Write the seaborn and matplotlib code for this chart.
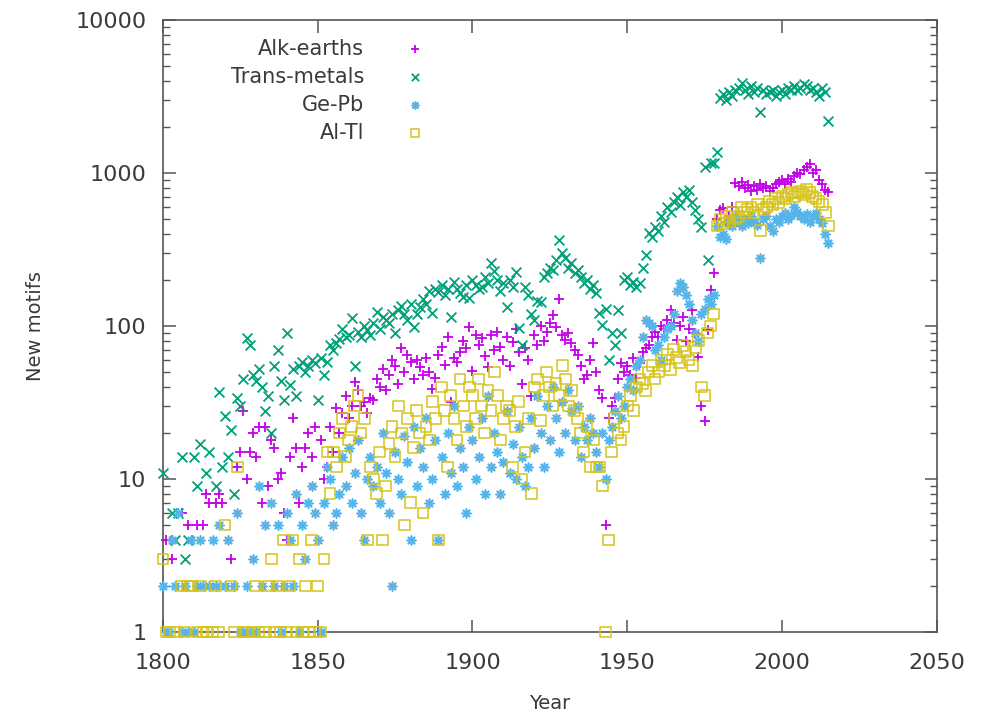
import numpy as np
import pandas as pd
import matplotlib
matplotlib.use("Agg")
import matplotlib.pyplot as plt
import seaborn as sns

N = None
years = list(range(1800, 2016))

alk_earths = [
    N, 4, N, 3, N, N, 6, N, 5, N,
    N, 5, N, 5, 8, 7, N, 7, 8, 7,
    N, N, 3, N, 12, 15, 28, 10, 15, 20,
    14, 22, 7, 22, 9, 18, 16, 10, 11, 6,
    4, 14, 25, 16, 7, 12, 16, 20, 14, 22,
    1, 18, 10, 12, 22, 15, 29, 20, 27, 35,
    25, 30, 43, 38, 30, 32, 27, 34, 33, 45,
    40, 52, 38, 48, 60, 55, 42, 72, 50, 65,
    58, 45, 60, 54, 48, 62, 50, 39, 46, 65,
    73, 56, 85, 32, 62, 58, 68, 80, 72, 98,
    51, 88, 75, 83, 64, 54, 87, 70, 92, 73,
    60, 85, 55, 79, 95, 68, 42, 72, 60, 35,
    88, 75, 100, 80, 92, 105, 118, 98, 150, 87,
    81, 90, 77, 70, 65, 55, 45, 48, 60, 77,
    50, 38, 34, 5, 25, 30, 34, 45, 57, 50,
    55, 48, 62, 46, 57, 68, 72, 75, 85, 92,
    85, 100, 95, 110, 127, 105, 81, 100, 115, 80,
    95, 127, 90, 63, 30, 24, 94, 172, 223, 500,
    570, 590, 480, 520, 600, 860, 820, 880, 800, 840,
    760, 820, 780, 850, 800, 820, 760, 800, 850, 880,
    900, 850, 920, 880, 950, 1000, 980, 1050, 1100, 1150,
    1000, 1050, 900, 850, 780, 750,
]

trans_metals = [
    11, N, N, 6, 4, 6, 14, 3, 4, N,
    14, 9, 17, N, 11, 15, N, 9, 37, 12,
    26, 14, 21, 8, 34, 30, 45, 84, 75, 48,
    44, 52, 40, 28, 35, 20, 55, 70, 44, 33,
    90, 41, 52, 35, 55, 58, 50, 55, 60, 57,
    33, 62, 48, 58, 75, 70, 78, 82, 95, 85,
    88, 113, 55, 92, 85, 100, 94, 88, 105, 123,
    95, 115, 110, 105, 120, 90, 127, 135, 120, 110,
    140, 98, 120, 133, 150, 140, 170, 121, 175, 167,
    185, 160, 175, 115, 194, 175, 165, 155, 185, 153,
    200, 185, 175, 180, 210, 190, 258, 230, 200, 170,
    190, 133, 200, 180, 226, 97, 75, 180, 160, 120,
    110, 145, 143, 210, 223, 240, 232, 270, 365, 300,
    280, 240, 258, 223, 232, 210, 190, 200, 175, 185,
    164, 121, 101, 130, 60, 90, 75, 127, 90, 200,
    208, 185, 194, 180, 190, 240, 292, 405, 380, 445,
    420, 520, 480, 600, 560, 650, 700, 620, 750, 700,
    770, 650, 570, 500, 445, 1100, 270, 1170, 1170, 1370,
    3100, 3300, 3000, 3400, 3200, 3500, 3600, 3900, 3500, 3300,
    3700, 3400, 3600, 2500, 3500, 3300, 3400, 3500, 3200, 3400,
    3500, 3300, 3600, 3500, 3700, 3500, 3600, 3800, 3700, 3500,
    3600, 3400, 3200, 3600, 3400, 2200,
]

ge_pb = [
    2, 1, 1, 4, 2, 6, 1, 2, 1, 4,
    1, 2, 4, 2, N, 2, 4, 2, 5, N,
    2, 4, N, 2, 6, 1, 1, 2, 1, 3,
    1, 9, 2, 5, N, 7, 2, 5, 1, 2,
    6, 4, 2, 8, 1, 5, 3, 7, 9, 6,
    4, 1, 7, 12, 10, 5, 6, 8, 14, 9,
    16, 7, 11, 18, 6, 4, 10, 14, 9, 12,
    7, 20, 11, 6, 2, 15, 10, 8, 19, 13,
    4, 22, 9, 16, 12, 25, 7, 10, 18, 4,
    14, 8, 20, 11, 30, 9, 16, 12, 6, 22,
    18, 10, 14, 25, 8, 35, 12, 20, 15, 8,
    13, 28, 11, 17, 10, 22, 14, 9, 12, 25,
    16, 35, 20, 12, 30, 18, 40, 25, 15, 32,
    20, 38, 28, 18, 30, 14, 22, 18, 25, 20,
    15, 12, 20, 10, 18, 22, 28, 35, 25, 30,
    40, 45, 38, 55, 60, 85, 110, 105, 100, 70,
    75, 60, 85, 95, 100, 120, 170, 190, 180, 160,
    140, 110, 90, 80, 120, 130, 150, 140, 160, 450,
    380, 400, 370, 480, 450, 520, 480, 450, 500, 470,
    520, 480, 460, 280, 500, 520, 450, 420, 500, 480,
    520, 550, 500, 530, 600, 560, 520, 500, 540, 480,
    520, 550, 500, 470, 400, 350,
]

al_tl = [
    3, 1, 1, N, 1, N, 2, 1, 2, 2,
    N, 1, 2, 1, 1, N, 1, 2, 1, N,
    5, N, 2, 1, 12, N, 1, 1, N, 1,
    2, 1, N, 1, 2, 3, 1, 2, 1, 4,
    1, 2, 4, 1, 3, 1, 2, 1, 4, 1,
    2, 1, 3, 15, 8, 15, 12, 20, 25, 14,
    18, 22, 30, 35, 20, 25, 4, 12, 10, 8,
    15, 4, 9, 17, 22, 14, 30, 20, 5, 25,
    7, 16, 28, 20, 6, 22, 18, 32, 25, 4,
    40, 28, 12, 35, 25, 18, 45, 30, 22, 40,
    35, 25, 45, 30, 20, 38, 28, 50, 35, 18,
    25, 30, 28, 12, 22, 32, 10, 15, 25, 8,
    40, 45, 24, 35, 50, 40, 30, 42, 35, 55,
    45, 30, 38, 28, 25, 20, 15, 22, 12, 18,
    12, 12, 9, 1, 4, 15, 25, 20, 18, 22,
    30, 35, 28, 40, 45, 42, 38, 50, 55, 45,
    50, 60, 55, 65, 52, 70, 62, 58, 75, 68,
    60, 55, 72, 80, 40, 35, 90, 100, 120, 450,
    500, 470, 520, 480, 550, 500, 520, 600, 550, 580,
    600, 550, 620, 420, 580, 600, 650, 620, 680, 640,
    700, 680, 720, 750, 700, 740, 760, 720, 780, 750,
    700, 680, 650, 620, 550, 450,
]

series_names = ["Alk-earths", "Trans-metals", "Ge-Pb", "Al-Tl"]
series_values = [alk_earths, trans_metals, ge_pb, al_tl]
colors = ["#c400e8", "#00a07a", "#56b4e9", "#d6c21a"]

x_ticks = [1800, 1850, 1900, 1950, 2000, 2050]
y_ticks = [1, 10, 100, 1000, 10000]

sns.set_style("ticks")
plt.rcParams["font.family"] = ["DejaVu Sans"]
text_color = "#3a3a3a"

fig = plt.figure(figsize=(9.88, 7.15), dpi=100)
ax = fig.add_axes([0.165, 0.116, 0.783, 0.856])

for name, vals, col in zip(series_names, series_values, colors):
    df = pd.DataFrame({"Year": years, "value": vals}).dropna()
    if name == "Alk-earths":
        sns.scatterplot(data=df, x="Year", y="value", ax=ax, marker="+",
                        color=col, s=60, linewidth=1.3, label=name, clip_on=False, zorder=3)
    elif name == "Trans-metals":
        sns.scatterplot(data=df, x="Year", y="value", ax=ax, marker="x",
                        color=col, s=50, linewidth=1.3, label=name, clip_on=False, zorder=3)
    elif name == "Ge-Pb":
        sns.scatterplot(data=df, x="Year", y="value", ax=ax, marker=(8, 2, 0),
                        color=col, s=40, linewidth=1.2, label=name, clip_on=False, zorder=3)
    else:
        sns.scatterplot(data=df, x="Year", y="value", ax=ax, marker="s",
                        color=col, facecolor="none", edgecolor=col, s=60,
                        linewidth=1.1, label=name, clip_on=False, zorder=3)

ax.set_yscale("log")
ax.set_xlim(1800, 2050)
ax.set_ylim(1, 10000)
ax.set_xticks(x_ticks)
ax.set_xticklabels([str(t) for t in x_ticks])
ax.set_yticks(y_ticks)
ax.set_yticklabels([str(t) for t in y_ticks])
ax.yaxis.set_minor_locator(matplotlib.ticker.LogLocator(base=10, subs=np.arange(2, 10)))
ax.yaxis.set_minor_formatter(matplotlib.ticker.NullFormatter())

for sp in ax.spines.values():
    sp.set_visible(True)
    sp.set_color("#555555")
    sp.set_linewidth(1.2)

ax.tick_params(axis="both", which="major", direction="in", length=9, width=1.1,
               colors="#555555", labelcolor=text_color, labelsize=16,
               top=True, right=True)
ax.tick_params(axis="x", which="major", pad=15)
ax.tick_params(axis="y", which="major", pad=12)
ax.tick_params(axis="y", which="minor", direction="in", length=5, width=1.0,
               colors="#555555", right=True, left=True)
ax.tick_params(axis="x", which="minor", bottom=False, top=False)

ax.set_xlabel("Year", fontsize=14, color=text_color, labelpad=15)
ax.set_ylabel("New motifs", fontsize=14, color=text_color, labelpad=22)

leg = ax.legend(loc="upper left", bbox_to_anchor=(0.063, 1.0), frameon=False,
                markerfirst=False, fontsize=15, labelspacing=0.38,
                handlelength=2.5, handletextpad=1.2, labelcolor=text_color,
                markerscale=0.75)

fig.savefig("out.png", dpi=100)
